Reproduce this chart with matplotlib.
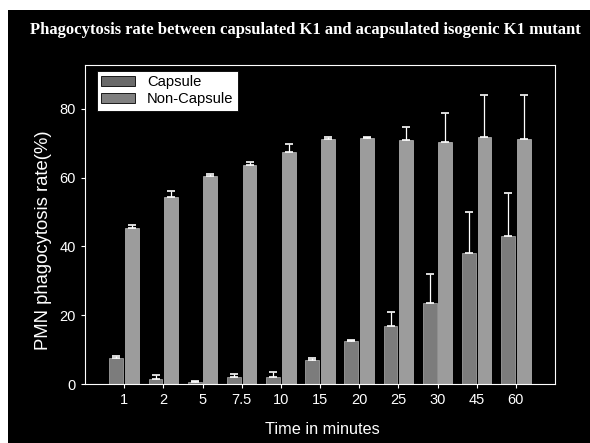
import matplotlib
matplotlib.use("Agg")
import matplotlib.pyplot as plt
import numpy as np

times = ["1", "2", "5", "7.5", "10", "15", "20", "25", "30", "45", "60"]
capsule = [7.5, 1.5, 0.5, 2.0, 2.0, 7.0, 12.5, 17.0, 23.5, 38.0, 43.0]
capsule_err = [0.7, 1.0, 0.3, 1.0, 1.5, 0.6, 0.3, 4.0, 8.5, 12.0, 12.5]
noncapsule = [45.5, 54.5, 60.5, 63.7, 67.5, 71.2, 71.5, 71.0, 70.4, 71.8, 71.2]
noncapsule_err = [0.8, 1.5, 0.5, 1.0, 2.3, 0.6, 0.4, 3.8, 8.4, 12.2, 12.8]

fig = plt.figure(figsize=(5.9, 4.43), dpi=100, facecolor="black")

# light paper margins along the top and left edges
fig.patches.append(plt.Rectangle((0, 1 - 10 / 443), 1, 10 / 443, transform=fig.transFigure,
                                 facecolor="white", edgecolor="none", zorder=-1))
fig.patches.append(plt.Rectangle((0, 0), 8 / 590, 1, transform=fig.transFigure,
                                 facecolor="white", edgecolor="none", zorder=-1))

ax = fig.add_axes([85 / 590, (443 - 384) / 443, 470 / 590, (384 - 65) / 443])
ax.set_facecolor("black")

x = np.arange(len(times))
w = 0.35
off = 0.2
cap_color = "#7c7c7c"
non_color = "#9c9c9c"

ax.bar(x - off, capsule, width=w, color=cap_color, edgecolor="#cfcfcf", linewidth=0.4, zorder=2)
ax.bar(x + off, noncapsule, width=w, color=non_color, edgecolor="#dcdcdc", linewidth=0.4, zorder=2)
ax.errorbar(x - off, capsule, yerr=[np.zeros(len(capsule)), capsule_err], fmt="none",
            ecolor="white", elinewidth=0.9, capsize=3, capthick=1.2, zorder=3)
ax.errorbar(x + off, noncapsule, yerr=[np.zeros(len(noncapsule)), noncapsule_err], fmt="none",
            ecolor="white", elinewidth=0.9, capsize=3, capthick=1.2, zorder=3)

ax.set_xlim(-1, 11)
ax.set_ylim(0, 92.8)
ax.set_xticks(x)
ax.set_xticklabels(times)
ax.set_yticks([0, 20, 40, 60, 80])

for s in ax.spines.values():
    s.set_color("white")
    s.set_linewidth(0.8)

ax.tick_params(colors="white", labelcolor="white", labelsize=10.5, length=3, width=0.8,
               direction="out")
for lab in ax.get_xticklabels() + ax.get_yticklabels():
    lab.set_family("Liberation Sans")

ax.set_xlabel("Time in minutes", color="white", fontsize=11.7, family="Liberation Sans")
ax.set_ylabel("PMN phagocytosis rate(%)", color="white", fontsize=13.3, family="Liberation Sans")
ax.xaxis.set_label_coords(0.504, -0.119)
ax.yaxis.set_label_coords(-0.070, 0.451)

h1 = plt.Rectangle((0, 0), 1, 1, facecolor="#6a6a6a", edgecolor="black", linewidth=0.6)
h2 = plt.Rectangle((0, 0), 1, 1, facecolor="#808080", edgecolor="black", linewidth=0.6)
leg = ax.legend([h1, h2], ["Capsule", "Non-Capsule"], loc="upper left",
                bbox_to_anchor=(12 / 470, 1 - 6 / 319), frameon=True, fancybox=False,
                framealpha=1, edgecolor="black", facecolor="white",
                prop={"family": "Liberation Sans", "size": 10.6},
                handlelength=2.3, handleheight=0.7, borderpad=0.3, labelspacing=0.2,
                handletextpad=0.8, borderaxespad=0)
leg.get_frame().set_linewidth(0.6)

fig.text(305 / 590, 1 - 30 / 443,
         "Phagocytosis rate between capsulated K1 and acapsulated isogenic K1 mutant",
         color="white", fontsize=12, fontweight="bold", family="Liberation Serif",
         ha="center", va="center")

fig.savefig("out.png", dpi=100, facecolor=fig.get_facecolor())
